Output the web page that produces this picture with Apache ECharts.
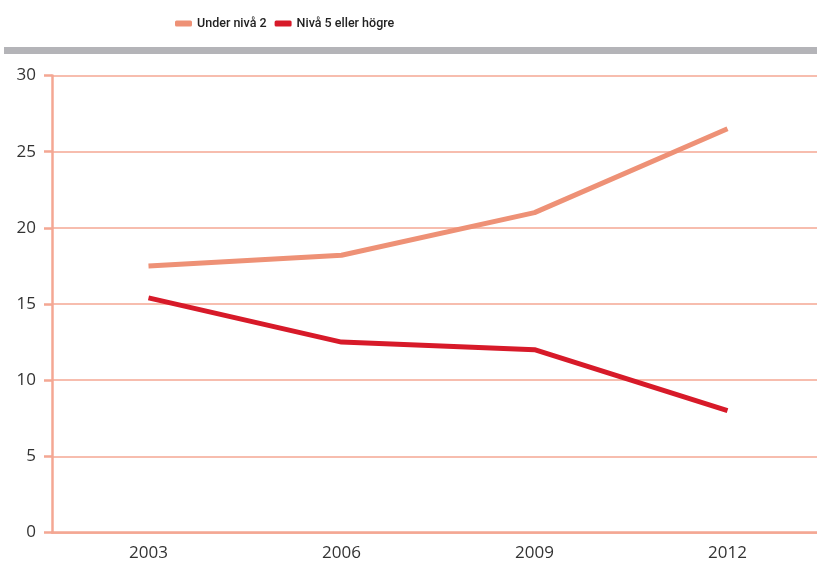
<!DOCTYPE html>
<html><head><meta charset="utf-8">
<script src="https://cdn.jsdelivr.net/npm/echarts@6/dist/echarts.min.js"></script>
<style>html,body{margin:0;padding:0;background:#fff}#c{width:817px;height:569px}</style>
</head><body><div id="c"></div>
<script>
const categories = ['2003', '2006', '2009', '2012'];
const underNiva2 = [17.5, 18.2, 21.0, 26.5];
const niva5 = [15.4, 12.5, 12.0, 8.0];
const seriesNames = ['Under nivå 2', 'Nivå 5 eller högre'];
const yTicks = [0, 5, 10, 15, 20, 25, 30];

const chart = echarts.init(document.getElementById('c'));
const gridColor = '#F4A793';
chart.setOption({
  animation: false,
  graphic: [{
    type: 'rect', shape: { x: 4, y: 47, width: 820, height: 7 },
    style: { fill: '#B4B4B8' }, silent: true
  }],
  legend: {
    top: 12, left: 170, itemWidth: 17, itemHeight: 6, itemGap: 8,
    icon: 'roundRect',
    textStyle: { fontFamily: 'Roboto, sans-serif', fontSize: 12.5, fontWeight: 500, color: '#222' },
    data: seriesNames
  },
  grid: { left: 52, width: 772, top: 75.5, height: 457, outerBoundsMode: 'none', containLabel: false },
  xAxis: {
    type: 'category', data: categories, boundaryGap: true,
    axisLine: { lineStyle: { color: gridColor, width: 2.5 } },
    axisTick: { show: false },
    axisLabel: { fontFamily: 'Open Sans, sans-serif', fontSize: 17, color: '#333', margin: 12 }
  },
  yAxis: {
    type: 'value', min: 0, max: 30, interval: 5,
    axisLine: { show: true, lineStyle: { color: gridColor, width: 2.5 } },
    axisTick: { show: true, length: 8, lineStyle: { color: gridColor, width: 2.5 } },
    splitLine: { lineStyle: { color: gridColor, width: 1.5 } },
    axisLabel: { fontFamily: 'Open Sans, sans-serif', fontSize: 17, color: '#333', margin: 16,
      formatter: v => yTicks.includes(v) ? String(v) : '' }
  },
  series: [
    { name: seriesNames[0], type: 'line', data: underNiva2, symbol: 'none',
      lineStyle: { color: '#EE9176', width: 5 }, itemStyle: { color: '#EE9176' } },
    { name: seriesNames[1], type: 'line', data: niva5, symbol: 'none',
      lineStyle: { color: '#D71A29', width: 5 }, itemStyle: { color: '#D71A29' } }
  ]
});
</script></body></html>
